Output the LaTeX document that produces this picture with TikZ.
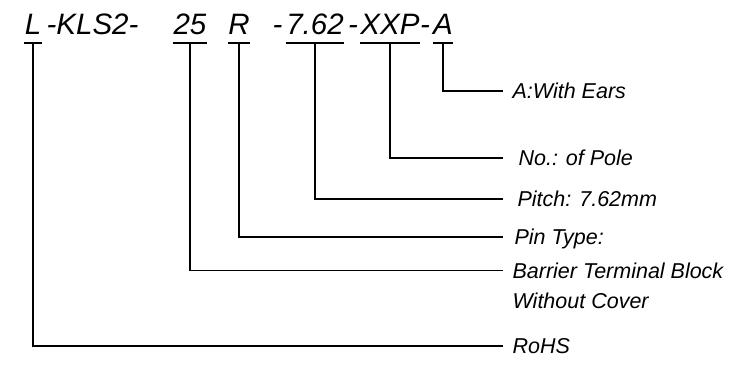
\documentclass[tikz,border=0pt]{standalone}
\usepackage{fontspec}
\setmainfont{Liberation Sans}

\begin{document}
\begin{tikzpicture}[x=1pt,y=-1pt,line width=1.2pt,
  part/.style={font=\fontsize{29.5}{29.5}\selectfont\itshape,inner xsep=0pt,inner ysep=7.5pt,text depth=0pt,anchor=base},
  sepr/.style={font=\fontsize{29.5}{29.5}\selectfont\itshape,inner sep=0pt,anchor=base},
  lbl/.style={font=\fontsize{21.5}{21.5}\selectfont\itshape,anchor=west,inner xsep=9pt,inner ysep=0pt,text height=15.4pt,text depth=0pt}]
\useasboundingbox (0,0) rectangle (754,366);
% code parts
\node[part,minimum width=17pt] (pL) at (33,35) {L};
\node[sepr,anchor=base west] (pKLS) at (46,35) {-KLS2-};
\node[part,minimum width=32pt] (p25) at (190,35) {25};
\node[part,minimum width=20pt] (pR) at (239,35) {R};
\node[sepr,anchor=base west] (d1) at (272,35) {-};
\node[part,minimum width=54pt] (p762) at (315,35) {7.62};
\node[sepr] (d2) at (353,35) {-};
\node[part,minimum width=51pt] (pXXP) at (390,35) {XXP};
\node[sepr] (d3) at (425,35) {-};
\node[part,minimum width=18pt] (pA) at (443,35) {A};
% underlines
\draw (pL.south west) -- (pL.south east);
\draw (p25.south west) -- (p25.south east);
\draw (pR.south west) -- (pR.south east);
\draw (p762.south west) -- (p762.south east);
\draw (pXXP.south west) -- (pXXP.south east);
\draw (pA.south west) -- (pA.south east);
% labels
\node[lbl] (ears) at (503,91) {A:With Ears};
\node[lbl,inner xsep=15pt] (pole) at (503,158) {No.: of Pole};
\node[lbl,inner xsep=14pt] (pitch) at (503,199) {Pitch: 7.62mm};
\node[lbl,inner xsep=11pt] (pin) at (503,237) {Pin Type:};
\node[lbl] (block) at (503,270.5) {Barrier Terminal Block};
\node[lbl] (cover) at (503,301) {Without Cover};
\node[lbl] (rohs) at (503,346) {RoHS};
% leaders
\draw (pA.south) |- (ears.west);
\draw (pXXP.south) |- (pole.west);
\draw (p762.south) |- (pitch.west);
\draw (pR.south) |- (pin.west);
\draw (p25.south) |- (block.west);
\draw (pL.south) |- (rohs.west);
\end{tikzpicture}
\end{document}
